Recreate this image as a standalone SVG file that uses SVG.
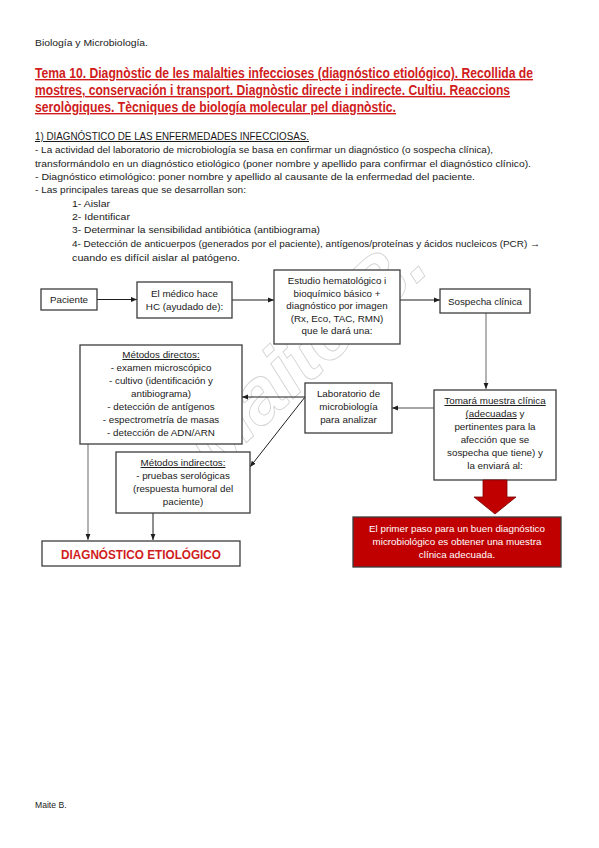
<svg xmlns="http://www.w3.org/2000/svg" width="599" height="848" viewBox="0 0 599 848">
<defs>
<style>
.t{font-family:"Liberation Sans",Arial,sans-serif;fill:#1a1a1a}
.s{font-size:8.6px}
.b{font-size:9.4px}
.bx{font-size:9.8px;text-anchor:middle}
.ttl{font-family:"Liberation Sans",Arial,sans-serif;font-weight:bold;font-size:13.8px;fill:#d01c1c}
.box{fill:#fff;stroke:#3c3c3c;stroke-width:1.3}
.c{fill:none;stroke:#1e1e1e;stroke-width:1}
.cg{fill:none;stroke:#8a8a8a;stroke-width:1.3}
.u{text-decoration:underline}
.wm{font-family:"Liberation Sans",Arial,sans-serif;font-style:italic;font-weight:bold;font-size:78px;fill:none;stroke:#d4d4d4;stroke-width:0.9}
.w{font-family:"Liberation Sans",Arial,sans-serif;font-size:9.8px;fill:#fff;text-anchor:middle}
</style>
<marker id="ah" viewBox="0 0 10 10" refX="10" refY="5" markerWidth="6" markerHeight="6" markerUnits="userSpaceOnUse" orient="auto">
<path d="M0,1 L10,5 L0,9 Z" fill="#1e1e1e"/>
</marker>
</defs>
<rect width="599" height="848" fill="#fff"/>

<!-- watermark -->
<text class="wm" x="0" y="0" text-anchor="middle" transform="translate(322,372) rotate(-43)">Maite B.</text>

<!-- header -->
<text class="t s" x="35" y="46" textLength="113" lengthAdjust="spacingAndGlyphs">Biología y Microbiología.</text>
<g id="title">
<text class="ttl u" x="35" y="78" textLength="498" lengthAdjust="spacingAndGlyphs">Tema 10. Diagnòstic de les malalties infeccioses (diagnóstico etiológico). Recollida de</text>
<text class="ttl u" x="35" y="95" textLength="475" lengthAdjust="spacingAndGlyphs">mostres, conservación i transport. Diagnòstic directe i indirecte. Cultiu. Reaccions</text>
<text class="ttl u" x="35" y="112" textLength="361" lengthAdjust="spacingAndGlyphs">serològiques.  Tècniques de biología molecular pel diagnòstic.</text>
</g>

<g id="intro">
<text class="t u" x="35" y="140" font-size="10" textLength="274" lengthAdjust="spacingAndGlyphs">1) DIAGNÓSTICO DE LAS ENFERMEDADES INFECCIOSAS.</text>
<text class="t b" x="35" y="153" textLength="458" lengthAdjust="spacingAndGlyphs">- La actividad del laboratorio de microbiología se basa en confirmar un diagnóstico (o sospecha clínica),</text>
<text class="t b" x="35" y="167" textLength="496" lengthAdjust="spacingAndGlyphs">transformándolo en un diagnóstico etiológico (poner nombre y apellido para confirmar el diagnóstico clínico).</text>
<text class="t b" x="35" y="180" textLength="440" lengthAdjust="spacingAndGlyphs">- Diagnóstico etimológico: poner nombre y apellido al causante de la enfermedad del paciente.</text>
<text class="t b" x="35" y="193" textLength="211" lengthAdjust="spacingAndGlyphs">- Las principales tareas que se desarrollan son:</text>
<text class="t b" x="72" y="207" textLength="38" lengthAdjust="spacingAndGlyphs">1- Aislar</text>
<text class="t b" x="72" y="220" textLength="58" lengthAdjust="spacingAndGlyphs">2- Identificar</text>
<text class="t b" x="72" y="233" textLength="248" lengthAdjust="spacingAndGlyphs">3- Determinar la sensibilidad antibiótica (antibiograma)</text>
<text class="t b" x="72" y="247" textLength="468" lengthAdjust="spacingAndGlyphs">4- Detección de anticuerpos (generados por el paciente), antígenos/proteínas y ácidos nucleicos (PCR) →</text>
<text class="t b" x="72" y="261" textLength="168" lengthAdjust="spacingAndGlyphs">cuando es difícil aislar al patógeno.</text>
</g>

<!-- connectors -->
<g id="connectors">
<line class="c" x1="97" y1="299.5" x2="137" y2="299.5" marker-end="url(#ah)"/>
<line class="c" x1="232" y1="300" x2="274" y2="300" marker-end="url(#ah)"/>
<line class="c" x1="400" y1="300" x2="440" y2="300" marker-end="url(#ah)"/>
<line class="cg" x1="486" y1="313" x2="486" y2="389" marker-end="url(#ah)"/>
<line class="cg" x1="434" y1="408" x2="392" y2="408" marker-end="url(#ah)"/>
<line class="c" x1="305" y1="397" x2="242" y2="397" marker-end="url(#ah)"/>
<line class="c" x1="305" y1="397" x2="250" y2="467" marker-end="url(#ah)"/>
<line class="cg" x1="88" y1="444" x2="88" y2="540" marker-end="url(#ah)"/>
<line class="c" x1="153" y1="513" x2="153" y2="540" marker-end="url(#ah)"/>
</g>

<g id="paciente">
<rect class="box" x="41" y="289" width="56" height="21"/>
<text class="t bx" x="69" y="303">Paciente</text>
</g>
<g id="medico">
<rect class="box" x="137" y="282" width="95" height="36"/>
<text class="t bx" x="184.5" y="297">El médico hace</text>
<text class="t bx" x="184.5" y="310">HC (ayudado de):</text>
</g>
<g id="estudio">
<rect class="box" x="274" y="270" width="126" height="74"/>
<text class="t bx" x="337" y="284">Estudio hematológico i</text>
<text class="t bx" x="337" y="296.5">bioquímico básico +</text>
<text class="t bx" x="337" y="309">diagnóstico por imagen</text>
<text class="t bx" x="337" y="321.5">(Rx, Eco, TAC, RMN)</text>
<text class="t bx" x="337" y="334">que le dará una:</text>
</g>
<g id="sospecha">
<rect class="box" x="440" y="289" width="90" height="24"/>
<text class="t bx" x="485" y="304.5">Sospecha clínica</text>
</g>
<g id="directos">
<rect class="box" x="80" y="345" width="162" height="99"/>
<text class="t bx" x="161" y="358"><tspan class="u">Métodos directos:</tspan></text>
<text class="t bx" x="161" y="371">- examen microscópico</text>
<text class="t bx" x="161" y="384">- cultivo (identificación y</text>
<text class="t bx" x="161" y="397">antibiograma)</text>
<text class="t bx" x="161" y="410">- detección de antígenos</text>
<text class="t bx" x="161" y="423">- espectrometría de masas</text>
<text class="t bx" x="161" y="436">- detección de ADN/ARN</text>
</g>
<g id="laboratorio">
<rect class="box" x="305" y="383" width="87" height="50"/>
<text class="t bx" x="348.5" y="397">Laboratorio de</text>
<text class="t bx" x="348.5" y="410">microbiología</text>
<text class="t bx" x="348.5" y="423">para analizar</text>
</g>
<g id="tomara">
<rect class="box" x="434" y="390" width="122" height="90"/>
<text class="t bx" x="495" y="404"><tspan class="u">Tomará muestra clínica</tspan></text>
<text class="t bx" x="495" y="417"><tspan class="u">(adecuadas</tspan> y</text>
<text class="t bx" x="495" y="430">pertinentes para la</text>
<text class="t bx" x="495" y="443">afección que se</text>
<text class="t bx" x="495" y="456">sospecha que tiene) y</text>
<text class="t bx" x="495" y="469">la enviará al:</text>
</g>
<g id="indirectos">
<rect class="box" x="116" y="452" width="134" height="61"/>
<text class="t bx" x="183" y="466"><tspan class="u">Métodos indirectos:</tspan></text>
<text class="t bx" x="183" y="479">- pruebas serológicas</text>
<text class="t bx" x="183" y="492">(respuesta humoral del</text>
<text class="t bx" x="183" y="505">paciente)</text>
</g>
<g id="diagnostico">
<rect class="box" x="42" y="541" width="198" height="25"/>
<text x="141" y="558.5" text-anchor="middle" font-family="Liberation Sans, Arial, sans-serif" font-weight="bold" font-size="13.5" fill="#d01c1c" textLength="160" lengthAdjust="spacingAndGlyphs">DIAGNÓSTICO ETIOLÓGICO</text>
</g>
<g id="flecha">
<path d="M483,480 L507,480 L507,497 L516,497 L495,514 L474,497 L483,497 Z" fill="#c00000" stroke="#7a0000" stroke-width="0.8"/>
</g>
<g id="nota">
<rect x="353" y="517" width="208" height="50" fill="#c00000" stroke="#3c3c3c" stroke-width="1.3"/>
<text class="w" x="457" y="532">El primer paso para un buen diagnóstico</text>
<text class="w" x="457" y="545">microbiológico es obtener una muestra</text>
<text class="w" x="457" y="558">clínica adecuada.</text>
</g>

<text class="t s" x="35" y="808">Maite B.</text>
</svg>
